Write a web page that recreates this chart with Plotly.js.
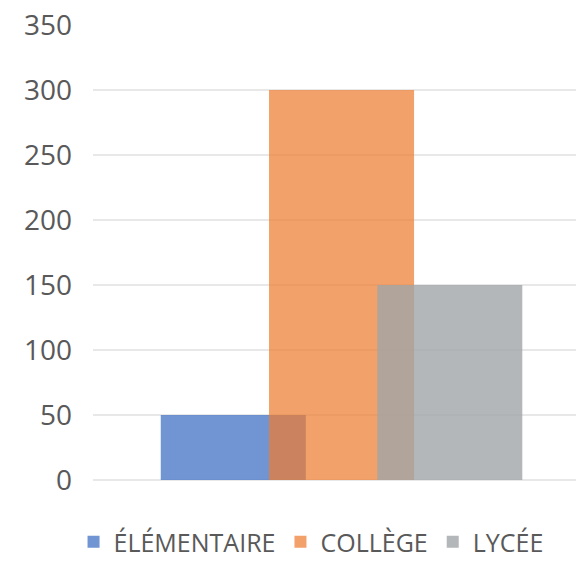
<!DOCTYPE html>
<html>
<head>
<meta charset="utf-8">
<script src="https://cdn.plot.ly/plotly-3.0.1.min.js"></script>
<style>html,body{margin:0;padding:0;background:#fff;}#chart{width:576px;height:565px;}</style>
</head>
<body>
<div id="chart"></div>
<script>
var categories = ["ÉLÉMENTAIRE", "COLLÈGE", "LYCÉE"];
var values = [50, 300, 150];
var colors = ["rgba(68,114,196,0.76)", "rgba(237,125,49,0.72)", "rgba(160,165,168,0.80)"];
var yTicks = [0, 50, 100, 150, 200, 250, 300, 350];

var traces = categories.map(function (c, i) {
  return {
    type: "bar",
    name: c,
    x: [i],
    y: [values[i]],
    width: 1.34,
    marker: { color: colors[i], line: { width: 0 } },
    hoverinfo: "name+y"
  };
});

var layout = {
  width: 576,
  height: 565,
  margin: { l: 93, r: 0, t: 25, b: 85 },
  paper_bgcolor: "#fff",
  plot_bgcolor: "#fff",
  barmode: "overlay",
  font: { family: "Open Sans, sans-serif", color: "#595959" },
  xaxis: {
    type: "linear",
    range: [-1.296, 3.166],
    showticklabels: false,
    showgrid: false,
    zeroline: false,
    showline: false,
    ticks: ""
  },
  yaxis: {
    range: [0, 350],
    tickvals: yTicks,
    ticktext: yTicks.map(String),
    tickfont: { size: 28, color: "#595959" },
    showgrid: true,
    gridcolor: "#E8E8E8",
    gridwidth: 2,
    zeroline: true,
    zerolinecolor: "#E8E8E8",
    zerolinewidth: 2,
    showline: false,
    ticks: "",
    ticklabelstandoff: 20
  },
  showlegend: true,
  legend: {
    orientation: "h",
    xref: "container",
    yref: "container",
    x: 0.54,
    xanchor: "center",
    y: 0,
    yanchor: "bottom",
    font: { size: 25, color: "#595959" },
    itemwidth: 30,
    traceorder: "normal"
  }
};

Plotly.newPlot("chart", traces, layout, { displayModeBar: false, staticPlot: true });
</script>
</body>
</html>
